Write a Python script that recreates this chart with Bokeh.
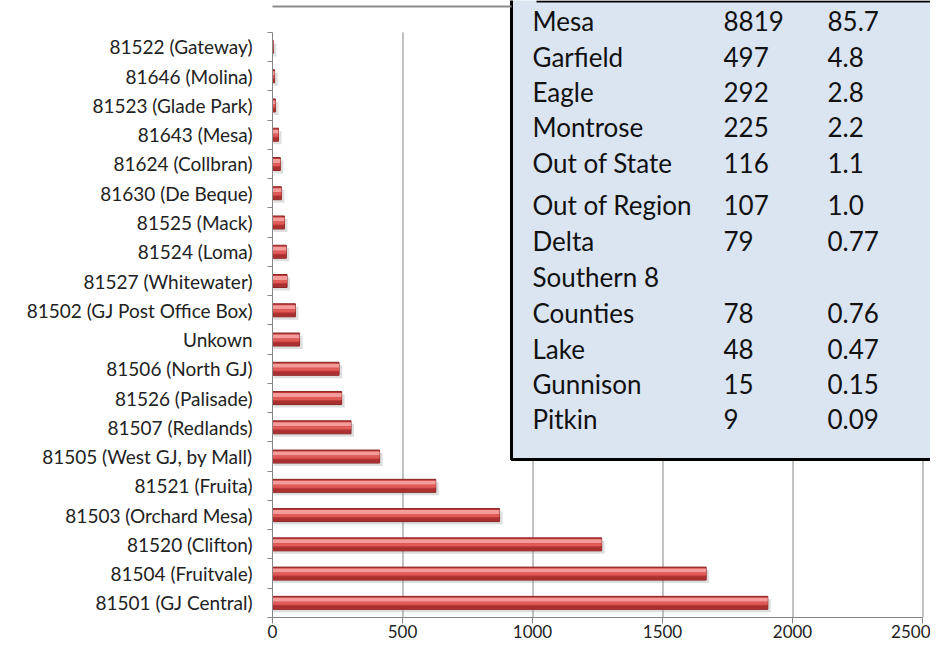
from bokeh.plotting import figure
from bokeh.models import ColumnDataSource, Range1d, FixedTicker, BoxAnnotation
from bokeh.transform import dodge
from bokeh.core.properties import value
from bokeh.embed import file_html
from bokeh.resources import INLINE

# ---------------- data (bottom to top) ----------------
zip_areas = ["81501 (GJ Central)", "81504 (Fruitvale)", "81520 (Clifton)",
             "81503 (Orchard Mesa)", "81521 (Fruita)", "81505 (West GJ, by Mall)",
             "81507 (Redlands)", "81526 (Palisade)", "81506 (North GJ)", "Unkown",
             "81502 (GJ Post Office Box)", "81527 (Whitewater)", "81524 (Loma)",
             "81525 (Mack)", "81630 (De Beque)", "81624 (Collbran)", "81643 (Mesa)",
             "81523 (Glade Park)", "81646 (Molina)", "81522 (Gateway)"]
zip_counts = [1905, 1668, 1266, 873, 628, 412, 302, 266, 256, 104,
              88, 56, 53, 46, 34, 30, 23, 11, 8, 3]
x_ticks = [0, 500, 1000, 1500, 2000, 2500]

regions = ["Mesa", "Garfield", "Eagle", "Montrose", "Out of State", "Out of Region",
           "Delta", "Southern 8 Counties", "Lake", "Gunnison", "Pitkin"]
region_counts = [8819, 497, 292, 225, 116, 107, 79, 78, 48, 15, 9]
region_pcts = ["85.7", "4.8", "2.8", "2.2", "1.1", "1.0", "0.77", "0.76", "0.47", "0.15", "0.09"]

# ---------------- layout constants (canvas pixels) ----------------
W, H = 930, 646
FRAME_LEFT = 272
FRAME_BOTTOM_BORDER = 29
FRAME_W = W - FRAME_LEFT
FRAME_H = H - FRAME_BOTTOM_BORDER
PX_PER_UNIT = 650 / 2500
PX_PER_ROW = 29.26
x_end = FRAME_W / PX_PER_UNIT
y_start = -0.5
y_end = y_start + FRAME_H / PX_PER_ROW


def px_h(px):
    return px / PX_PER_ROW


def px_w(px):
    return px / PX_PER_UNIT


def dx(cx):
    return (cx - FRAME_LEFT) / PX_PER_UNIT


def dy(cy):
    return y_end - cy / PX_PER_ROW


ypos = list(range(len(zip_areas)))
src = ColumnDataSource(dict(
    y=ypos,
    count=zip_counts,
    shadow_right=[c + px_w(3) for c in zip_counts],
))

p = figure(width=W, height=H, x_range=Range1d(0, x_end), y_range=Range1d(y_start, y_end),
           output_backend="svg", toolbar_location=None,
           min_border_left=FRAME_LEFT, min_border_right=0, min_border_top=0,
           min_border_bottom=FRAME_BOTTOM_BORDER)
p.outline_line_color = None
p.grid.visible = False
p.background_fill_color = "white"
p.border_fill_color = "white"

AXIS_COL = "#868686"
TEXT_COL = "#222222"

# outer chart border (top edge, visible part)
p.add_layout(BoxAnnotation(left=5, right=511, top=5, bottom=7,
                           left_units="canvas", right_units="canvas",
                           top_units="canvas", bottom_units="canvas",
                           fill_color="#8c8c8c", fill_alpha=1.0, line_color=None,
                           level="overlay"))

# y axis
p.yaxis.ticker = FixedTicker(ticks=ypos, minor_ticks=[i - 0.5 for i in range(len(ypos) + 1)])
p.yaxis.major_label_overrides = {i: lab for i, lab in enumerate(zip_areas)}
p.yaxis.bounds = (-0.5, len(ypos) - 0.5)
p.yaxis.axis_line_color = AXIS_COL
p.yaxis.major_tick_line_color = None
p.yaxis.major_tick_out = 0
p.yaxis.major_tick_in = 0
p.yaxis.minor_tick_line_color = AXIS_COL
p.yaxis.minor_tick_out = 5
p.yaxis.minor_tick_in = 0
p.yaxis.major_label_standoff = 15
p.yaxis.major_label_text_font = "Lato"
p.yaxis.major_label_text_font_size = "19px"
p.yaxis.major_label_text_color = TEXT_COL

# x axis
p.xaxis.ticker = FixedTicker(ticks=x_ticks, minor_ticks=[])
p.xaxis.bounds = (0, 2500)
p.xaxis.axis_line_color = AXIS_COL
p.xaxis.major_tick_line_color = AXIS_COL
p.xaxis.major_tick_out = 6
p.xaxis.major_tick_in = 0
p.xaxis.minor_tick_line_color = None
p.xaxis.major_label_standoff = 1
p.xaxis.major_label_text_font = "Lato"
p.xaxis.major_label_text_font_size = "17px"
p.xaxis.major_label_text_color = TEXT_COL

# vertical gridlines
gx = [t + px_w(0.5) for t in x_ticks[1:]]
p.segment(x0=gx, x1=gx, y0=[-0.5] * len(gx), y1=[len(ypos) - 0.5] * len(gx),
          line_color=AXIS_COL, line_width=1)

# bars (bevelled look)
BAR_H = px_h(13)
p.hbar(y=dodge("y", -px_h(3), range=p.y_range), left=px_w(1), right="shadow_right",
       height=BAR_H, source=src, fill_color="#8a8a8a", fill_alpha=0.28, line_color=None)
p.hbar(y="y", left=0, right="count", height=BAR_H, source=src,
       fill_color="#c23b3b", line_color="#8a2424", line_width=1)
p.hbar(y=dodge("y", px_h(3), range=p.y_range), left=0, right="count", height=px_h(4),
       source=src, fill_color="#f39c9a", line_color=None)
p.hbar(y=dodge("y", -px_h(0.5), range=p.y_range), left=0, right="count", height=px_h(3),
       source=src, fill_color="#e05a58", line_color=None)
p.hbar(y=dodge("y", -px_h(4.5), range=p.y_range), left=0, right="count", height=px_h(3),
       source=src, fill_color="#a83030", line_color=None)

# table box
p.quad(left=[dx(511)], right=[dx(960)], top=[dy(-10)], bottom=[dy(459)],
       fill_color="#dbe5f1", line_color="black", line_width=3)
p.segment(x0=[dx(536)], x1=[dx(940)], y0=[dy(1)], y1=[dy(1)],
          line_color="black", line_width=2)

TEXT_SHIFT = 11  # measured rendering offset of the alphabetic baseline
row_baselines = [31, 67, 102, 137, 173, 215, 251, 323, 359, 394, 429]
wrap_gap = 36
name_x, name_y, name_t = [], [], []
for reg, base in zip(regions, row_baselines):
    lines = ["Southern 8", "Counties"] if reg == "Southern 8 Counties" else [reg]
    for k, ln in enumerate(lines):
        name_x.append(dx(532))
        name_y.append(dy(base - TEXT_SHIFT - (len(lines) - 1 - k) * wrap_gap))
        name_t.append(ln)

tbl_font = dict(text_font=value("Lato"), text_font_size="26px", text_color="#111111",
                text_align="left", text_baseline="alphabetic")
p.text(x=name_x, y=name_y, text=name_t, **tbl_font)
p.text(x=[dx(723)] * len(region_counts), y=[dy(b - TEXT_SHIFT) for b in row_baselines],
       text=[str(c) for c in region_counts], **tbl_font)
p.text(x=[dx(827)] * len(region_pcts), y=[dy(b - TEXT_SHIFT) for b in row_baselines],
       text=region_pcts, **tbl_font)

open("out.html", "w").write(file_html(p, INLINE))
